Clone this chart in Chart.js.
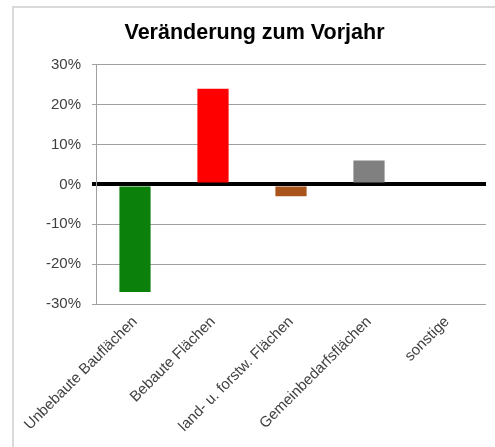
<!DOCTYPE html>
<html lang="de">
<head>
<meta charset="UTF-8">
<title>Veränderung zum Vorjahr</title>
<script src="https://cdn.jsdelivr.net/npm/chart.js@4"></script>
<style>
    html, body { margin: 0; padding: 0; background: #fff; overflow: hidden; width: 495px; height: 447px; }
    .box {
        position: absolute; left: 12px; top: 6px;
        width: 483px; height: 441px;
        border-left: 2px solid #d9d9d9; border-top: 2px solid #d9d9d9;
        overflow: hidden;
    }
    .box canvas { position: absolute; left: 0; top: 0; }
</style>
</head>
<body>
<div class="box">
    <canvas id="chart" width="481" height="439" style="width:481px;height:439px"></canvas>
</div>
<script>
    // Daten
    const categories = ['Unbebaute Bauflächen', 'Bebaute Flächen', 'land- u. forstw. Flächen', 'Gemeinbedarfsflächen', 'sonstige'];
    const changes = [-27, 24, -3, 6, 0];
    const barColors = ['#0b800b', '#ff0000', '#a8541c', '#808080', '#808080'];
    const yTicks = [-30, -20, -10, 0, 10, 20, 30];

    const font = 'Arial, "Liberation Sans", sans-serif';

    new Chart(document.getElementById('chart'), {
        type: 'bar',
        data: {
            labels: categories,
            datasets: [{
                data: changes,
                backgroundColor: barColors,
                barPercentage: 0.4,
                categoryPercentage: 1
            }]
        },
        options: {
            responsive: false,
            animation: false,
            layout: { padding: 0 },
            plugins: {
                legend: { display: false },
                tooltip: { enabled: false },
                title: {
                    display: true,
                    text: 'Veränderung zum Vorjahr',
                    color: '#000',
                    font: { family: font, size: 21.5, weight: 'bold' },
                    padding: { top: 12, bottom: 19 }
                }
            },
            scales: {
                x: {
                    grid: { display: false, drawTicks: false },
                    border: { display: false },
                    ticks: {
                        color: '#404040',
                        font: { family: font, size: 15 },
                        minRotation: 45, maxRotation: 45,
                        autoSkip: false,
                        padding: 9
                    },
                    afterFit: s => { s.height = 143; s.paddingLeft = 0; s.paddingRight = 0; }
                },
                y: {
                    min: yTicks[0],
                    max: yTicks[yTicks.length - 1],
                    afterBuildTicks: s => { s.ticks = yTicks.map(v => ({ value: v })); },
                    grid: {
                        color: c => c.tick && c.tick.value === 0 ? '#000' : '#a0a0a0',
                        lineWidth: c => c.tick && c.tick.value === 0 ? 4 : 1,
                        tickLength: 4
                    },
                    border: { display: true, color: '#a0a0a0', width: 1 },
                    ticks: {
                        color: '#404040',
                        font: { family: font, size: 15 },
                        padding: 11,
                        callback: v => v + '%'
                    },
                    afterFit: s => { s.width = 82; }
                },
                // leerer Rand rechts, damit der Titel mittig über der ganzen Fläche steht
                yRight: {
                    position: 'right',
                    grid: { display: false, drawTicks: false },
                    border: { display: false },
                    ticks: { display: false },
                    afterFit: s => { s.width = 9; }
                }
            }
        }
    });
</script>
</body>
</html>
